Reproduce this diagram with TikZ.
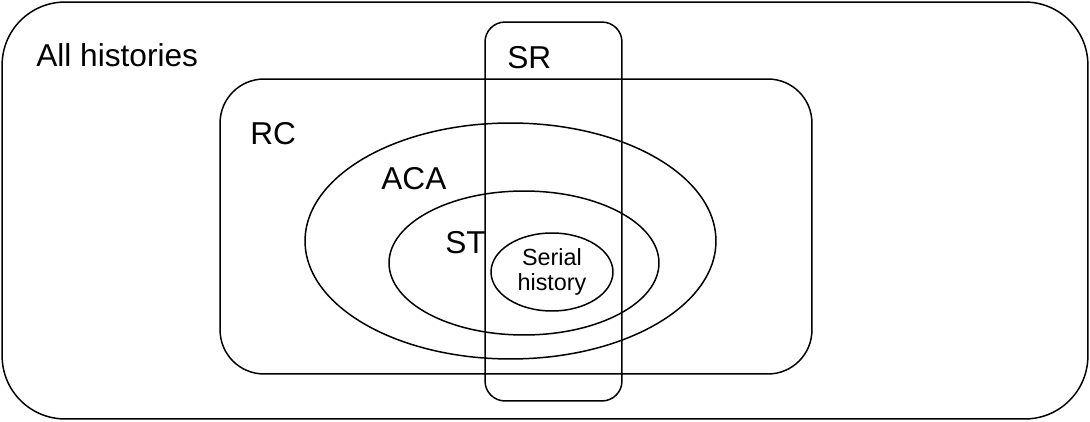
\documentclass[tikz,border=0pt]{standalone}
\usepackage{fontspec}
\setmainfont{Liberation Sans}
\usetikzlibrary{shapes.geometric}

\begin{document}
\begin{tikzpicture}[
  x=0.02cm, y=-0.02cm,
  set/.style={draw, line width=0.85pt, inner sep=0pt},
  region/.style={set, rectangle},
  oval/.style={set, ellipse},
  lbl/.style={inner sep=0pt, anchor=base west, font=\fontsize{18}{20}\selectfont},
]
\useasboundingbox (0,0) rectangle (1090,422);

% Outer set and the big classes
\node[region, rounded corners=1.26cm, minimum width=21.72cm, minimum height=8.34cm] (all) at (545, 210.5) {};
\node[region, rounded corners=0.88cm, minimum width=11.84cm, minimum height=5.9cm] (rc) at (516, 226.5) {};
\node[region, rounded corners=0.4cm, minimum width=2.74cm, minimum height=7.58cm] (sr) at (553.5, 211.5) {};

% Nested ellipses
\node[oval, minimum width=8.22cm, minimum height=4.72cm] (aca) at (510.5, 241) {};
\node[oval, minimum width=5.4cm, minimum height=2.88cm] (st) at (524, 263) {};
\node[oval, minimum width=2.44cm, minimum height=1.56cm, align=center, font=\fontsize{13.3}{14.2}\selectfont] (serial) at (552, 272) {Serial\\history};

% Labels
\node[lbl] (allLbl) at (36, 66.7) {All histories};
\node[lbl] (srLbl) at (507, 69) {SR};
\node[lbl] (rcLbl) at (250, 145) {RC};
\node[lbl] (acaLbl) at (381, 190) {ACA};
\node[lbl] (stLbl) at (445, 253.3) {ST};
\end{tikzpicture}
\end{document}
